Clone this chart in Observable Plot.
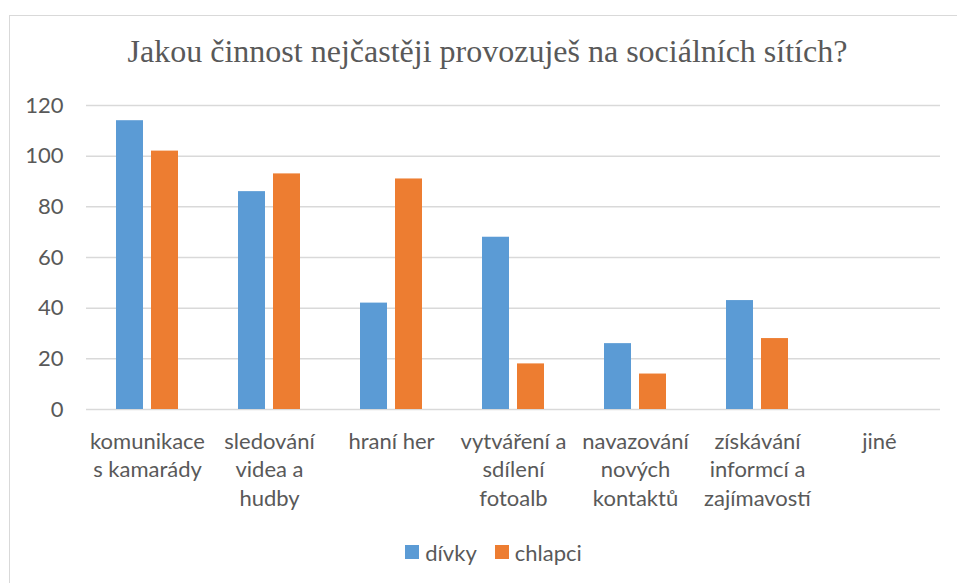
<!DOCTYPE html>
<html>
<head>
<meta charset="utf-8">
<script src="https://cdn.jsdelivr.net/npm/d3@7"></script>
<script src="https://cdn.jsdelivr.net/npm/@observablehq/plot@0.6"></script>
<style>
  html, body { margin: 0; padding: 0; background: #fff; }
  #wrap { position: relative; width: 957px; height: 583px; overflow: hidden; background: #fff; }
  #frame { position: absolute; left: 9px; top: 15px; width: 980px; height: 620px; border: 1.5px solid #d9d9d9; box-sizing: border-box; }
  #title { position: absolute; left: 9px; width: 957px; top: 33px; text-align: center; font-family: "Liberation Serif", Tinos, "Times New Roman", Times, "Noto Serif", "DejaVu Serif", "Noto Serif CJK SC", serif; font-size: 32px; color: #595959; white-space: nowrap; }
  #chart { position: absolute; left: 0; top: 0; }
  #legend { position: absolute; left: 30px; width: 927px; top: 537px; text-align: center; font-family: Lato, sans-serif; font-size: 22px; color: #595959; }
  #legend span.item { display: inline-flex; align-items: center; margin: 0 9px; }
  #legend span.sw { display: inline-block; width: 14px; height: 14px; margin-right: 6px; }
</style>
</head>
<body>
<div id="wrap">
  <div id="frame"></div>
  <div id="chart"></div>
  <div id="title">Jakou činnost nejčastěji provozuješ na sociálních sítích?</div>
  <div id="legend"></div>
</div>
<script>
const categories = [
  "komunikace\ns kamarády",
  "sledování\nvidea a\nhudby",
  "hraní her",
  "vytváření a\nsdílení\nfotoalb",
  "navazování\nnových\nkontaktů",
  "získávání\ninformcí a\nzajímavostí",
  "jiné"
];
const seriesNames = ["dívky", "chlapci"];
const divky = [114, 86, 42, 68, 26, 43, 0];
const chlapci = [102, 93, 91, 18, 14, 28, 0];
const yTicks = [0, 20, 40, 60, 80, 100, 120];
const colors = ["#5B9BD5", "#ED7D31"];

const data = [];
categories.forEach((c, i) => {
  data.push({category: c, series: seriesNames[0], value: divky[i]});
  data.push({category: c, series: seriesNames[1], value: chlapci[i]});
});

const chart = Plot.plot({
  width: 957,
  height: 520,
  marginTop: 105,
  marginBottom: 111,
  marginLeft: 85,
  marginRight: 17,
  style: {fontFamily: "Lato, sans-serif", fontSize: "22px", color: "#595959", background: "transparent"},
  fx: {domain: categories, paddingInner: 0, paddingOuter: 0, label: null},
  x: {domain: seriesNames, paddingInner: 0.23, paddingOuter: 0.857, axis: null},
  y: {domain: [0, 120], label: null},
  color: {domain: seriesNames, range: colors},
  marks: [
    Plot.ruleY(yTicks, {stroke: "#d9d9d9", strokeWidth: 1.5}),
    Plot.barY(data, {fx: "category", x: "series", y: "value", fill: "series"}),
    Plot.axisY({ticks: yTicks, tickSize: 0, tickPadding: 23, label: null, fill: "#595959", fontSize: 22}),
    Plot.axisFx({anchor: "bottom", tickSize: 0, tickPadding: 19, label: null, fill: "#595959", fontSize: 22, lineHeight: 1.3, lineAnchor: "top"})
  ]
});
document.getElementById("chart").appendChild(chart);

const legend = document.getElementById("legend");
seriesNames.forEach((s, i) => {
  const item = document.createElement("span");
  item.className = "item";
  const sw = document.createElement("span");
  sw.className = "sw";
  sw.style.background = colors[i];
  item.appendChild(sw);
  item.appendChild(document.createTextNode(s));
  legend.appendChild(item);
});
</script>
</body>
</html>
